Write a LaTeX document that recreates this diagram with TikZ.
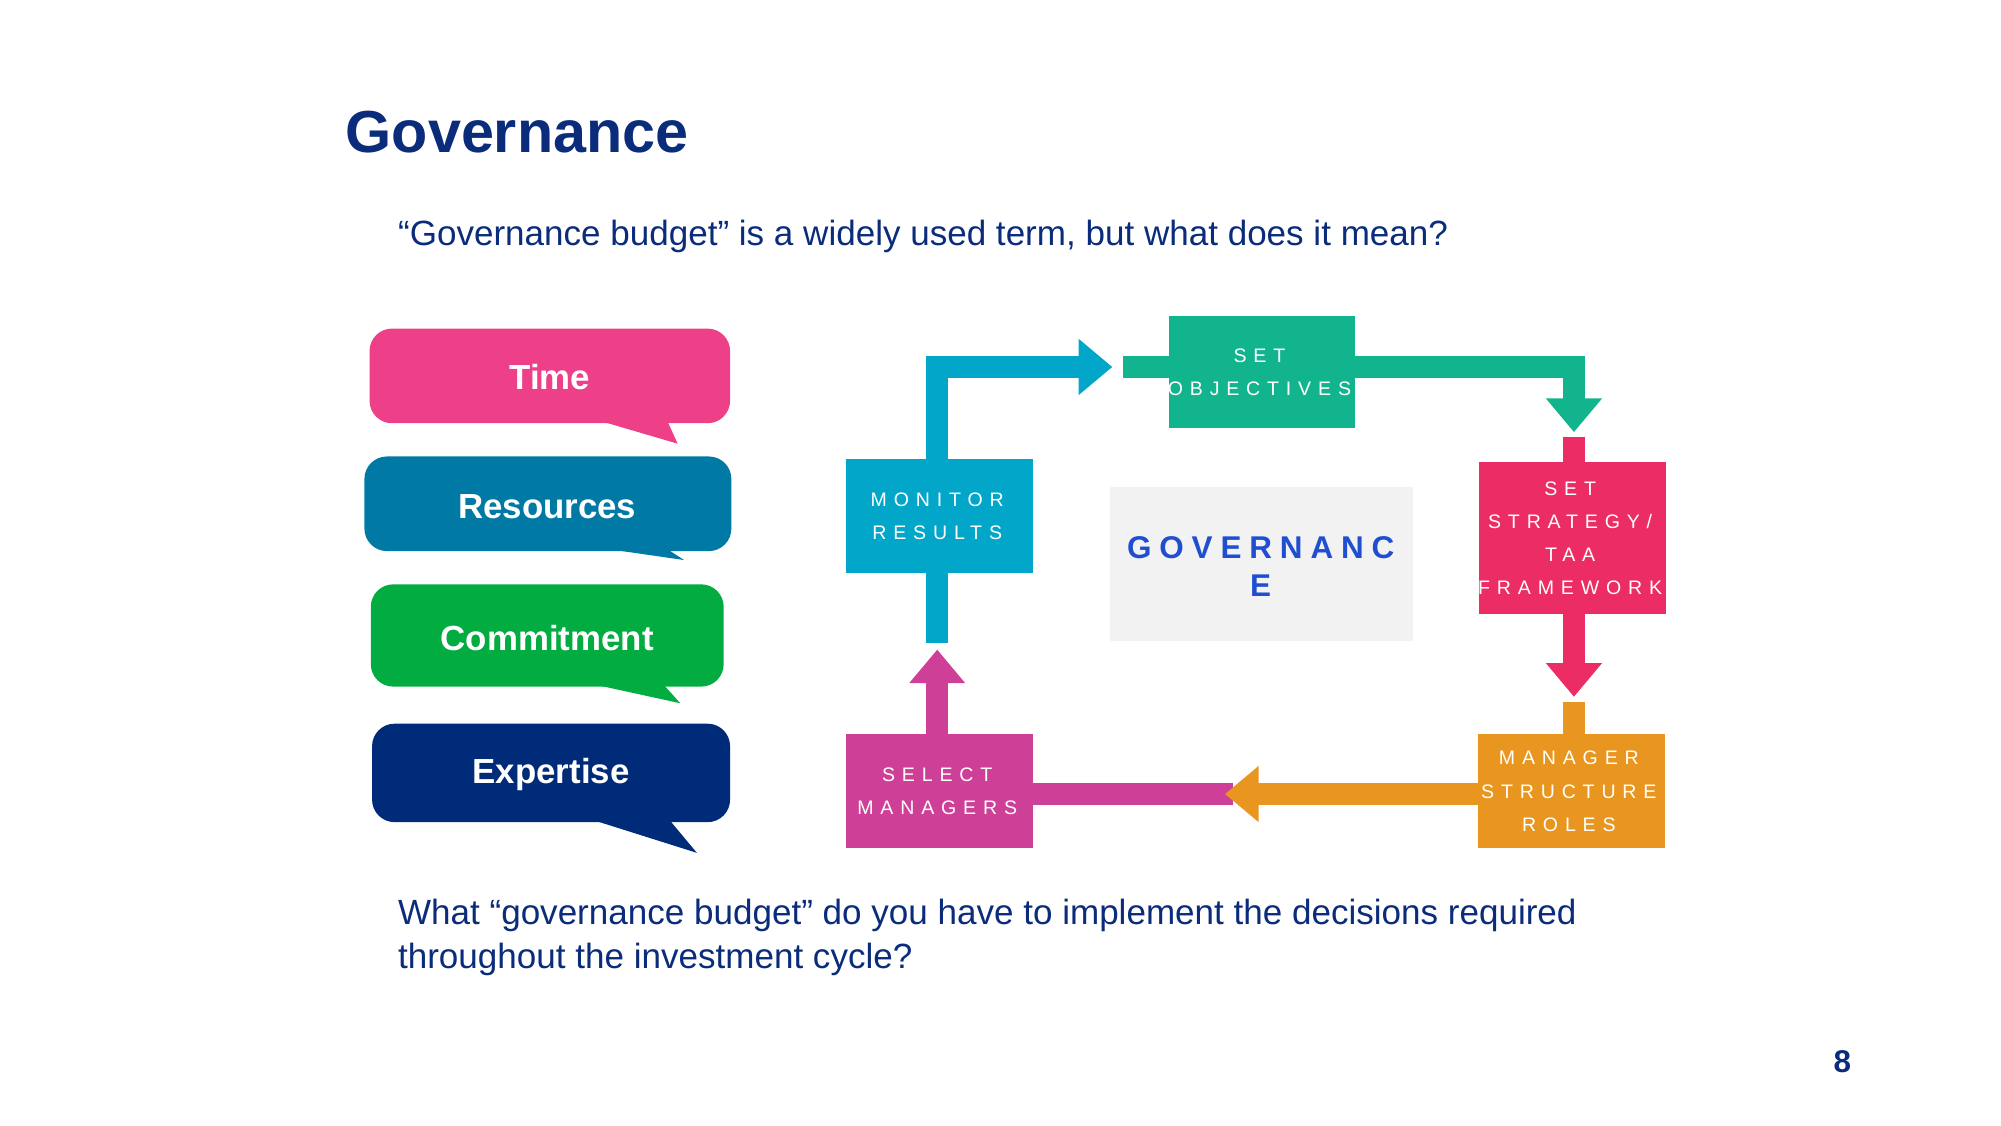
\documentclass[tikz,border=0pt]{standalone}
\usepackage{fontspec}
\setmainfont{Liberation Sans}
\newfontfamily\spaced{Liberation Sans}[LetterSpace=35]
\newfontfamily\gspaced{Liberation Sans}[LetterSpace=25]
\usetikzlibrary{arrows.meta}
\definecolor{navy}{HTML}{0A2C7A}
\definecolor{cpink}{HTML}{EE4089}
\definecolor{cres}{HTML}{0079A5}
\definecolor{cgreen}{HTML}{03AC41}
\definecolor{cnavy}{HTML}{002B78}
\definecolor{cteal}{HTML}{12B48E}
\definecolor{cred}{HTML}{EC2C64}
\definecolor{corange}{HTML}{E8961F}
\definecolor{cmag}{HTML}{CE3F98}
\definecolor{ccyan}{HTML}{01A6C9}
\definecolor{gblue}{HTML}{1F4FD0}
\begin{document}
\begin{tikzpicture}[x=0.02cm,y=-0.02cm,
  bubble/.style={inner sep=0pt,text=white,font=\bfseries\fontsize{15.5}{18}\selectfont},
  stepbox/.style={inner sep=0pt,text=white,align=center,font=\spaced\fontsize{8.7}{14.8}\selectfont},
  flow/.style={line width=10pt},
  tip/.style={-{Triangle[length=15pt,width=24pt]}},
  body/.style={text=navy,font=\fontsize{15.6}{19.5}\selectfont,anchor=west,inner sep=0pt}]
\useasboundingbox (0,0) rectangle (1565,880);
\node[anchor=west,inner sep=0pt,text=navy,font=\bfseries\fontsize{26.4}{30}\selectfont] (title) at (270,103) {Governance};
\node[body] (sub) at (311,185) {“Governance budget” is a widely used term, but what does it mean?};
\node[body,anchor=north west,align=left] (q) at (311,703) {What “governance budget” do you have to implement the decisions required\\throughout the investment cycle?};
\node[text=navy,font=\bfseries\fontsize{14}{16}\selectfont] (pg) at (1441,830) {8};
% bubbles
\fill[cpink] (455,325) -- (530,347) -- (520,325) -- cycle;
\fill[cres] (445,425) -- (535,438) -- (515,425) -- cycle;
\fill[cgreen] (445,531) -- (532,550) -- (515,531) -- cycle;
\fill[cnavy] (450,637) -- (545,667) -- (520,637) -- cycle;
\fill[cpink,rounded corners=10pt] (289,257) rectangle (571,331);
\fill[cres,rounded corners=10pt] (285,357) rectangle (572,431);
\fill[cgreen,rounded corners=10pt] (290,457) rectangle (566,537);
\fill[cnavy,rounded corners=10pt] (291,566) rectangle (571,643);
\node[bubble] (time) at (430,295) {Time};
\node[bubble] (res) at (428,396) {Resources};
\node[bubble] (com) at (428,499) {Commitment};
\node[bubble] (exp) at (431,606) {Expertise};
\coordinate (c1) at (733,287);
\coordinate (t1a) at (870,287);
\coordinate (c2) at (1231,287);
\coordinate (t2a) at (1231,338);
\coordinate (t3a) at (1231,545);
\coordinate (t4a) at (958,621);
\coordinate (t5a) at (733,508);
% tails
\draw[flow,cteal] (878,287) -- (950,287);
\draw[flow,cred] (1231,342) -- (1231,400);
\draw[flow,corange] (1231,549) -- (1231,600);
\draw[flow,cmag] (964,621) -- (760,621);
\draw[flow,ccyan] (733,503) -- (733,420);
% arrows
\draw[flow,tip,ccyan] (733,400) -- (c1) -- (t1a);
\draw[flow,tip,cteal] (1000,287) -- (c2) -- (t2a);
\draw[flow,tip,cred] (1231,420) -- (t3a);
\draw[flow,tip,corange] (1200,621) -- (t4a);
\draw[flow,tip,cmag] (733,600) -- (t5a);
% box fills
\fill[cteal] (914,247) rectangle (1060,335);
\fill[cred] (1157,361) rectangle (1303,480);
\fill[corange] (1156,574) rectangle (1302,663);
\fill[cmag] (662,574) rectangle (808,663);
\fill[ccyan] (662,359) rectangle (808,448);
\fill[black!5] (868,381) rectangle (1105,501);
\node[stepbox] (setobj) at (985,291) {SET\\OBJECTIVES};
\node[stepbox] (strat) at (1228,421) {SET\\STRATEGY/\\TAA\\FRAMEWORK};
\node[stepbox] (mgr) at (1227,619) {MANAGER\\STRUCTURE\\ROLES};
\node[stepbox] (sel) at (733,619) {SELECT\\MANAGERS};
\node[stepbox] (mon) at (733,404) {MONITOR\\RESULTS};
\node[stepbox,text=gblue,font=\bfseries\gspaced\fontsize{14}{17}\selectfont] (gov) at (986,443) {GOVERNANC\\E};
\end{tikzpicture}
\end{document}
